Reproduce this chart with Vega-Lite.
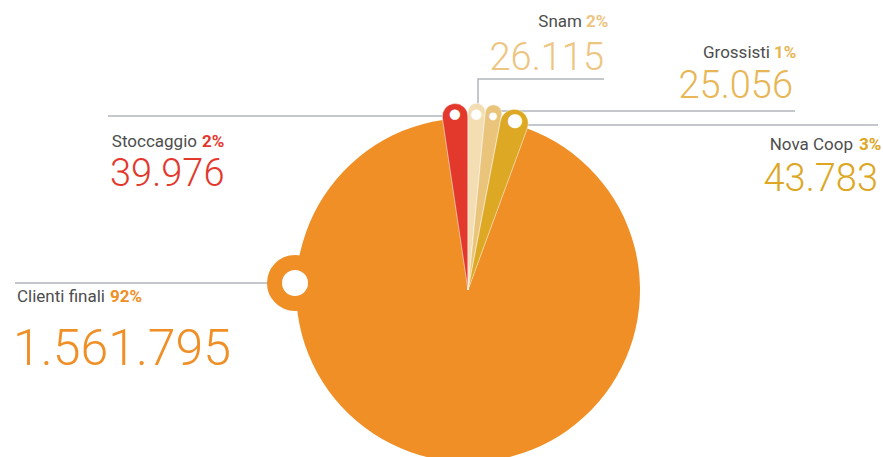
{
  "$schema": "https://vega.github.io/schema/vega-lite/v6.json",
  "width": 830,
  "height": 334,
  "autosize": {"type": "none"},
  "padding": {"left": 53, "top": 123, "right": 0, "bottom": 0},
  "background": "white",
  "config": {
    "view": {"stroke": null},
    "locale": {"number": {"decimal": ",", "thousands": ".", "grouping": [3], "currency": ["", " €"]}}
  },
  "datasets": {
    "flows": [
      {"cat": "Stoccaggio", "value": 39976, "share": 0.02, "ord": 1},
      {"cat": "Snam", "value": 26115, "share": 0.02, "ord": 2},
      {"cat": "Grossisti", "value": 25056, "share": 0.01, "ord": 3},
      {"cat": "Nova Coop", "value": 43783, "share": 0.03, "ord": 4},
      {"cat": "Clienti finali", "value": 1561795, "share": 0.92, "ord": 5}
    ],
    "leaders": [
      {"lead": "Stoccaggio", "k": 1}, {"lead": "Stoccaggio", "k": 2},
      {"lead": "Snam", "k": 3}, {"lead": "Snam", "k": 4}, {"lead": "Snam", "k": 5},
      {"lead": "Grossisti", "k": 6}, {"lead": "Grossisti", "k": 7},
      {"lead": "Nova Coop", "k": 8}, {"lead": "Nova Coop", "k": 9},
      {"lead": "Clienti finali", "k": 10}, {"lead": "Clienti finali", "k": 11}
    ]
  },
  "layer": [
    {
      "data": {"name": "leaders"},
      "mark": {"type": "line", "color": "#B0B6BC", "strokeWidth": 1.5},
      "encoding": {
        "x": {"field": "k", "type": "quantitative", "axis": null,
              "scale": {"domain": [1,2,3,4,5,6,7,8,9,10,11], "range": [55,397,425,425,551,435,742,462,825,-38,232], "zero": false, "nice": false}},
        "y": {"field": "k", "type": "quantitative", "axis": null,
              "scale": {"domain": [1,2,3,4,5,6,7,8,9,10,11], "range": [-7,-7,-17,-44,-44,-12,-12,2,2,160,160], "zero": false, "nice": false}},
        "detail": {"field": "lead", "type": "nominal"}
      }
    },
    {
      "data": {"name": "flows"},
      "mark": {"type": "arc", "outerRadius": 172},
      "encoding": {
        "theta": {"field": "value", "type": "quantitative", "stack": true, "scale": {"range": [-0.148, 6.1352]}},
        "order": {"field": "ord", "type": "quantitative"},
        "color": {"field": "cat", "type": "nominal", "legend": null,
                  "scale": {"domain": ["Stoccaggio","Snam","Grossisti","Nova Coop","Clienti finali"], "range": ["#E3392D","#F3DDB2","#EAC47B","#DDA823","#EF8F26"]}}
      }
    },
    {
      "data": {"name": "flows"},
      "mark": {"type": "arc", "outerRadius": 187, "cornerRadius": 30, "stroke": "#ffffff", "strokeWidth": 0.5},
      "encoding": {
        "theta": {"field": "value", "type": "quantitative", "stack": true, "scale": {"range": [-0.148, 6.1352]}},
        "order": {"field": "ord", "type": "quantitative"},
        "color": {"field": "cat", "type": "nominal", "legend": null,
                  "scale": {"domain": ["Stoccaggio","Snam","Grossisti","Nova Coop","Clienti finali"], "range": ["#E3392D","#F3DDB2","#EAC47B","#DDA823","#EF8F26"]}},
        "opacity": {"condition": {"test": "datum.cat === 'Clienti finali'", "value": 0}, "value": 1}
      }
    },
    {
      "data": {"name": "flows"},
      "mark": {"type": "text", "radius": 176, "font": "DejaVu Sans", "color": "#ffffff", "align": "center", "baseline": "middle"},
      "encoding": {
        "theta": {"field": "value", "type": "quantitative", "stack": true, "scale": {"range": [-0.148, 6.1352]}},
        "order": {"field": "ord", "type": "quantitative"},
        "text": {"value": "●"},
        "size": {"field": "value", "type": "quantitative", "legend": null,
                 "scale": {"domain": [25056, 26115, 39976, 43783, 1561795], "range": [10, 13.5, 13.5, 18.5, 1], "zero": false, "nice": false}},
        "opacity": {"condition": {"test": "datum.cat === 'Clienti finali'", "value": 0}, "value": 1}
      }
    },
    {
      "data": {"name": "flows"},
      "transform": [{"filter": {"field": "cat", "equal": "Clienti finali"}}],
      "mark": {"type": "arc", "innerRadius": 0, "outerRadius": 20.5, "fill": "#ffffff", "stroke": "#EF8F26", "strokeWidth": 15},
      "encoding": {
        "x": {"field": "value", "type": "quantitative", "axis": null,
              "scale": {"domain": [25056, 26115, 39976, 43783, 1561795], "range": [242, 242, 242, 242, 242], "zero": false, "nice": false}},
        "y": {"field": "value", "type": "quantitative", "axis": null,
              "scale": {"domain": [25056, 26115, 39976, 43783, 1561795], "range": [160, 160, 160, 160, 160], "zero": false, "nice": false}},
        "theta": {"value": 0},
        "theta2": {"value": 6.2832}
      }
    },
    {
      "data": {"name": "flows"},
      "mark": {"type": "text", "align": "right", "baseline": "alphabetic", "font": "Roboto", "fontSize": 17, "color": "#4D4D4D"},
      "encoding": {
        "text": {"field": "cat", "type": "nominal"},
        "x": {"field": "value", "type": "quantitative", "axis": null,
              "scale": {"domain": [25056, 26115, 39976, 43783, 1561795], "range": [717, 529, 144, 800, 52], "zero": false, "nice": false}},
        "y": {"field": "value", "type": "quantitative", "axis": null,
              "scale": {"domain": [25056, 26115, 39976, 43783, 1561795], "range": [-65, -96, 24, 27, 179], "zero": false, "nice": false}}
      }
    },
    {
      "data": {"name": "flows"},
      "mark": {"type": "text", "align": "left", "baseline": "alphabetic", "font": "Roboto", "fontSize": 17, "fontWeight": "bold"},
      "encoding": {
        "text": {"field": "share", "type": "quantitative", "format": ".0%"},
        "x": {"field": "value", "type": "quantitative", "axis": null,
              "scale": {"domain": [25056, 26115, 39976, 43783, 1561795], "range": [721, 533, 149, 806, 57], "zero": false, "nice": false}},
        "y": {"field": "value", "type": "quantitative", "axis": null,
              "scale": {"domain": [25056, 26115, 39976, 43783, 1561795], "range": [-65, -96, 24, 27, 179], "zero": false, "nice": false}},
        "color": {"field": "cat", "type": "nominal", "legend": null,
                  "scale": {"domain": ["Stoccaggio","Snam","Grossisti","Nova Coop","Clienti finali"], "range": ["#E3392D","#EDC57F","#E8B655","#DDA623","#EF8F26"]}}
      }
    },
    {
      "data": {"name": "flows"},
      "transform": [{"filter": {"field": "cat", "oneOf": ["Snam", "Grossisti", "Nova Coop"]}}],
      "mark": {"type": "text", "align": "right", "baseline": "alphabetic", "font": "Roboto", "fontWeight": 300},
      "encoding": {
        "text": {"field": "value", "type": "quantitative", "format": ","},
        "x": {"field": "value", "type": "quantitative", "axis": null,
              "scale": {"domain": [25056, 26115, 39976, 43783, 1561795], "range": [740, 551, 57, 825, -40], "zero": false, "nice": false}},
        "y": {"field": "value", "type": "quantitative", "axis": null,
              "scale": {"domain": [25056, 26115, 39976, 43783, 1561795], "range": [-25, -53, 63, 68, 242], "zero": false, "nice": false}},
        "size": {"field": "value", "type": "quantitative", "legend": null,
                 "scale": {"domain": [25056, 26115, 39976, 43783, 1561795], "range": [38, 38, 38, 38, 50], "zero": false, "nice": false}},
        "color": {"field": "cat", "type": "nominal", "legend": null,
                  "scale": {"domain": ["Stoccaggio","Snam","Grossisti","Nova Coop","Clienti finali"], "range": ["#E3392D","#EDC57F","#E8B655","#DDA623","#EF8F26"]}}
      }
    },
    {
      "data": {"name": "flows"},
      "transform": [{"filter": {"field": "cat", "oneOf": ["Stoccaggio", "Clienti finali"]}}],
      "mark": {"type": "text", "align": "left", "baseline": "alphabetic", "font": "Roboto", "fontWeight": 300},
      "encoding": {
        "text": {"field": "value", "type": "quantitative", "format": ","},
        "x": {"field": "value", "type": "quantitative", "axis": null,
              "scale": {"domain": [25056, 26115, 39976, 43783, 1561795], "range": [740, 551, 57, 825, -40], "zero": false, "nice": false}},
        "y": {"field": "value", "type": "quantitative", "axis": null,
              "scale": {"domain": [25056, 26115, 39976, 43783, 1561795], "range": [-25, -53, 63, 68, 242], "zero": false, "nice": false}},
        "size": {"field": "value", "type": "quantitative", "legend": null,
                 "scale": {"domain": [25056, 26115, 39976, 43783, 1561795], "range": [38, 38, 38, 38, 50], "zero": false, "nice": false}},
        "color": {"field": "cat", "type": "nominal", "legend": null,
                  "scale": {"domain": ["Stoccaggio","Snam","Grossisti","Nova Coop","Clienti finali"], "range": ["#E3392D","#EDC57F","#E8B655","#DDA623","#EF8F26"]}}
      }
    }
  ],
  "resolve": {"scale": {"x": "independent", "y": "independent", "color": "independent", "size": "independent"}}
}
